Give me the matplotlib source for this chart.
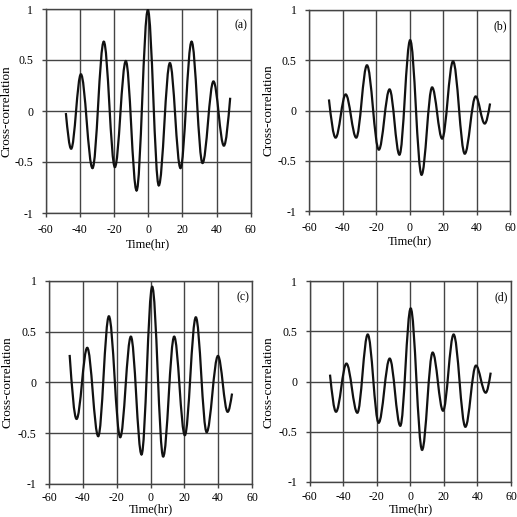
import numpy as np
import matplotlib
matplotlib.use("Agg")
import matplotlib.pyplot as plt
from matplotlib.path import Path
from matplotlib.patches import PathPatch

plt.rcParams['font.family'] = ['Liberation Serif', 'DejaVu Serif']

# Extrema (and end points), per panel
t_a = [-48.2, -45.1, -39.4, -32.6, -26.0, -19.5, -13.1, -6.8, -0.2, 6.2, 12.7, 18.9, 25.4, 31.8, 38.2, 44.3, 48.0]
y_a = [-0.02, -0.37, 0.36, -0.56, 0.68, -0.55, 0.49, -0.78, 0.99, -0.73, 0.47, -0.56, 0.68, -0.51, 0.29, -0.34, 0.13]

t_b = [-48.1, -44.1, -38.1, -31.8, -25.4, -18.3, -11.9, -6.0, 0.4, 7.2, 13.5, 19.5, 26.0, 33.0, 39.5, 44.9, 48.1]
y_b = [0.11, -0.27, 0.16, -0.27, 0.45, -0.39, 0.21, -0.44, 0.70, -0.64, 0.23, -0.28, 0.49, -0.43, 0.14, -0.13, 0.07]

t_c = [-47.8, -43.7, -37.4, -30.9, -24.6, -17.9, -11.6, -5.3, 1.0, 7.5, 14.0, 20.3, 26.8, 33.2, 39.9, 45.6, 48.2]
y_c = [0.27, -0.36, 0.34, -0.53, 0.65, -0.54, 0.45, -0.71, 0.94, -0.73, 0.45, -0.52, 0.64, -0.49, 0.26, -0.29, -0.11]

t_d = [-47.9, -44.3, -38.1, -31.6, -25.4, -18.9, -12.3, -6.0, 0.2, 7.0, 13.3, 19.5, 25.8, 32.8, 39.1, 44.9, 47.9]
y_d = [0.07, -0.30, 0.18, -0.31, 0.47, -0.41, 0.23, -0.44, 0.73, -0.68, 0.29, -0.29, 0.47, -0.45, 0.16, -0.11, 0.09]

panel_labels = ['(a)', '(b)', '(c)', '(d)']
xticks = [-60, -40, -20, 0, 20, 40, 60]
yticks = [-1, -0.5, 0, 0.5, 1]
ytick_labels = ['-1', '-0.5', '0', '0.5', '1']
xlabel = 'Time(hr)'
ylabel = 'Cross-correlation'

W = H = 517
fig = plt.figure(figsize=(W / 100, H / 100), dpi=100)

# axes boxes in pixels: left, right, top, bottom
boxes = [(45.7, 250.7, 9, 213), (309, 510, 10, 211),
         (49, 252, 280.7, 484), (309.7, 511, 281.3, 482)]
# label centres in pixels: ylabel x, xlabel y; x tick pad
label_pos = [(7, 244, 5), (268, 241, 5), (8, 509.5, 2.5), (269, 509.5, 3.5)]
series = [(t_a, y_a), (t_b, y_b), (t_c, y_c), (t_d, y_d)]


def smooth_path(t, y, k=0.36):
    verts = [(t[0], y[0])]
    codes = [Path.MOVETO]
    n = len(t)
    for i in range(n - 1):
        t0, y0, t1, y1 = t[i], y[i], t[i + 1], y[i + 1]
        d = t1 - t0
        if i == 0:
            c1 = (t0 + d / 3, y0 + (y1 - y0) / 2)
        else:
            c1 = (t0 + k * d, y0)
        if i == n - 2:
            c2 = (t1 - d / 3, y1 - (y1 - y0) / 2)
        else:
            c2 = (t1 - k * d, y1)
        verts += [c1, c2, (t1, y1)]
        codes += [Path.CURVE4] * 3
    return Path(verts, codes)


grid_color = '#444444'
for (l, r, tp, bt), (lx, ly, xpad), (t, y), lab in zip(boxes, label_pos, series, panel_labels):
    ax = fig.add_axes([l / W, 1 - bt / H, (r - l) / W, (bt - tp) / H])
    ax.set_xlim(-60, 60)
    ax.set_ylim(-1, 1)
    ax.set_xticks(xticks)
    ax.set_xticklabels([str(v) for v in xticks])
    ax.set_yticks(yticks)
    ax.set_yticklabels(ytick_labels)
    ax.grid(True, color=grid_color, linewidth=1.0)
    ax.set_axisbelow(True)
    for s in ax.spines.values():
        s.set_color(grid_color)
        s.set_linewidth(1.0)
    ax.tick_params(axis='both', direction='out', length=3, width=1.0,
                   color=grid_color, labelsize=8.5)
    ax.tick_params(axis='y', pad=6)
    ax.tick_params(axis='x', pad=xpad)
    patch = PathPatch(smooth_path(t, y), facecolor='none', edgecolor='#111111',
                      linewidth=1.6, transform=ax.transData, zorder=3)
    ax.add_patch(patch)
    ax.set_xlabel(xlabel, fontsize=9, va='center')
    ax.set_ylabel(ylabel, fontsize=9.5, va='center')
    ax.xaxis.set_label_coords(0.5, (bt - ly) / (bt - tp))
    ax.yaxis.set_label_coords((lx - l) / (r - l), 0.5)
    ax.text(0.985, 0.95, lab, transform=ax.transAxes, ha='right', va='top',
            fontsize=8.5)

fig.savefig('out.png', dpi=100)
